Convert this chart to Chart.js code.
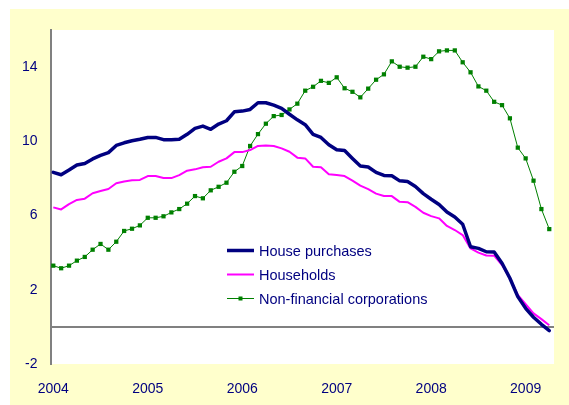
<!DOCTYPE html>
<html>
<head>
<meta charset="utf-8">
<script src="https://cdn.jsdelivr.net/npm/chart.js@4"></script>
<style>
  html, body { margin: 0; padding: 0; background: #ffffff; }
  #wrap { width: 569px; height: 405px; }
</style>
</head>
<body>
<div id="wrap"><canvas id="c" width="569" height="405"></canvas></div>
<script>
// ---- data (monthly, Jan 2004 .. Apr 2009) ----
const months = [];
for (let y = 2004; y <= 2009; y++) {
  for (let m = 1; m <= 12; m++) {
    if (y === 2009 && m > 4) break;
    months.push(y + '-' + String(m).padStart(2, '0'));
  }
}
const housePurchases = [
  8.33, 8.20, 8.45, 8.72, 8.81, 9.05, 9.24, 9.39, 9.78, 9.92, 10.03, 10.11,
  10.21, 10.21, 10.09, 10.09, 10.11, 10.38, 10.70, 10.82, 10.65, 10.93, 11.11, 11.59,
  11.63, 11.72, 12.08, 12.08, 11.95, 11.78, 11.46, 11.16, 10.90, 10.38, 10.21, 9.82,
  9.55, 9.50, 9.08, 8.67, 8.62, 8.33, 8.16, 8.14, 7.87, 7.84, 7.57, 7.18,
  6.88, 6.60, 6.19, 5.92, 5.53, 4.32, 4.23, 4.05, 4.03, 3.43, 2.62, 1.63,
  1.00, 0.52, 0.14, -0.20
];
const households = [
  6.44, 6.33, 6.62, 6.84, 6.91, 7.20, 7.32, 7.43, 7.74, 7.84, 7.90, 7.92,
  8.13, 8.13, 8.02, 8.02, 8.18, 8.42, 8.49, 8.60, 8.63, 8.90, 9.08, 9.42,
  9.42, 9.53, 9.75, 9.78, 9.75, 9.62, 9.44, 9.12, 9.08, 8.63, 8.60, 8.22,
  8.18, 8.13, 7.88, 7.61, 7.42, 7.18, 7.05, 7.05, 6.74, 6.72, 6.47, 6.15,
  5.97, 5.85, 5.44, 5.22, 4.95, 4.23, 4.00, 3.85, 3.84, 3.33, 2.62, 1.72,
  1.22, 0.73, 0.42, 0.09
];
const nonFinancial = [
  3.30, 3.16, 3.30, 3.57, 3.77, 4.16, 4.47, 4.16, 4.59, 5.17, 5.29, 5.47,
  5.88, 5.88, 5.96, 6.17, 6.35, 6.64, 7.05, 6.93, 7.36, 7.55, 7.77, 8.36,
  8.67, 9.75, 10.39, 10.95, 11.36, 11.42, 11.72, 12.03, 12.73, 12.94, 13.26, 13.15,
  13.45, 12.86, 12.67, 12.37, 12.84, 13.32, 13.61, 14.31, 14.02, 13.97, 14.02, 14.56,
  14.43, 14.85, 14.90, 14.90, 14.26, 13.72, 12.96, 12.73, 12.13, 11.95, 11.24, 9.66,
  9.08, 7.88, 6.35, 5.27
];
const yearLabels = ['2004', '2005', '2006', '2007', '2008', '2009'];
const yTickValues = [-2, 2, 6, 10, 14];
const seriesNames = ['House purchases', 'Households', 'Non-financial corporations'];

// ---- helpers ----
const toXY = arr => arr.map((v, i) => ({ x: i, y: v }));
const yearIndex = yearLabels.map(y => months.indexOf(y + '-01'));
const FONT = '"Liberation Sans", Arial, sans-serif';
const TEXT = '#000080';

const bgPlugin = {
  id: 'bg',
  beforeDraw(chart) {
    const ctx = chart.ctx, a = chart.chartArea;
    ctx.save();
    ctx.fillStyle = '#ffffff';
    ctx.fillRect(0, 0, chart.width, chart.height);
    ctx.fillStyle = '#FFFFCC';
    ctx.fillRect(10, 9, chart.width - 10, chart.height - 9);
    ctx.fillStyle = '#ffffff';
    ctx.fillRect(a.left, a.top, a.right - a.left, a.bottom - a.top);
    ctx.restore();
  },
  beforeDatasetsDraw(chart) {
    const ctx = chart.ctx, a = chart.chartArea;
    const y0 = Math.round(chart.scales.y.getPixelForValue(0));
    ctx.save();
    ctx.strokeStyle = '#808080';
    ctx.lineWidth = 2;
    ctx.beginPath();
    ctx.moveTo(a.left, y0);
    ctx.lineTo(a.right, y0);
    ctx.stroke();
    ctx.restore();
  }
};

const legendPlugin = {
  id: 'innerLegend',
  afterDraw(chart) {
    const ctx = chart.ctx;
    const x0 = 227, x1 = 254, tx = 259;
    const baselines = [256, 280, 304];
    ctx.save();
    ctx.font = '14.5px ' + FONT;
    ctx.textBaseline = 'alphabetic';
    chart.data.datasets.forEach((ds, i) => {
      const by = baselines[i];
      const ly = by - 5.5;
      ctx.strokeStyle = ds.borderColor;
      ctx.lineWidth = ds.borderWidth;
      ctx.beginPath();
      ctx.moveTo(x0, ly);
      ctx.lineTo(x1, ly);
      ctx.stroke();
      if (ds.pointRadius > 0) {
        ctx.fillStyle = ds.pointBackgroundColor;
        ctx.fillRect((x0 + x1) / 2 - 2, ly - 2, 4, 4);
      }
      ctx.fillStyle = TEXT;
      ctx.fillText(ds.label, tx, by);
    });
    ctx.restore();
  }
};

new Chart(document.getElementById('c'), {
  type: 'line',
  data: {
    datasets: [
      {
        label: seriesNames[0], data: toXY(housePurchases),
        borderColor: '#000080', borderWidth: 3.5, pointRadius: 0,
        tension: 0, borderJoinStyle: 'round', borderCapStyle: 'round'
      },
      {
        label: seriesNames[1], data: toXY(households),
        borderColor: '#FF00FF', borderWidth: 2, pointRadius: 0,
        tension: 0, borderJoinStyle: 'round'
      },
      {
        label: seriesNames[2], data: toXY(nonFinancial),
        borderColor: '#008000', borderWidth: 1,
        pointStyle: 'rect', pointRadius: 3, pointBorderWidth: 0,
        pointBackgroundColor: '#008000', pointBorderColor: '#008000',
        tension: 0
      }
    ]
  },
  options: {
    responsive: false,
    animation: false,
    layout: { padding: { left: 0, right: 15, top: 30, bottom: 0 } },
    plugins: { legend: { display: false }, tooltip: { enabled: false } },
    scales: {
      x: {
        type: 'linear', min: -0.29, max: 63.6,
        afterBuildTicks: s => { s.ticks = yearIndex.map(v => ({ value: v })); },
        afterFit: s => { s.height = 41; },
        grid: { display: false, drawTicks: false },
        border: { display: false },
        ticks: {
          padding: 17, color: TEXT, font: { family: FONT, size: 14 },
          maxRotation: 0, autoSkip: false,
          callback: v => yearLabels[yearIndex.indexOf(v)]
        }
      },
      y: {
        type: 'linear', min: -2, max: 16,
        afterBuildTicks: s => { s.ticks = yTickValues.map(v => ({ value: v })); },
        afterFit: s => { s.width = 51; },
        grid: { display: false, drawTicks: false },
        border: { display: true, color: '#808080', width: 2 },
        ticks: {
          padding: 13.5, color: TEXT, font: { family: FONT, size: 14 },
          autoSkip: false
        }
      }
    }
  },
  plugins: [bgPlugin, legendPlugin]
});
</script>
</body>
</html>
